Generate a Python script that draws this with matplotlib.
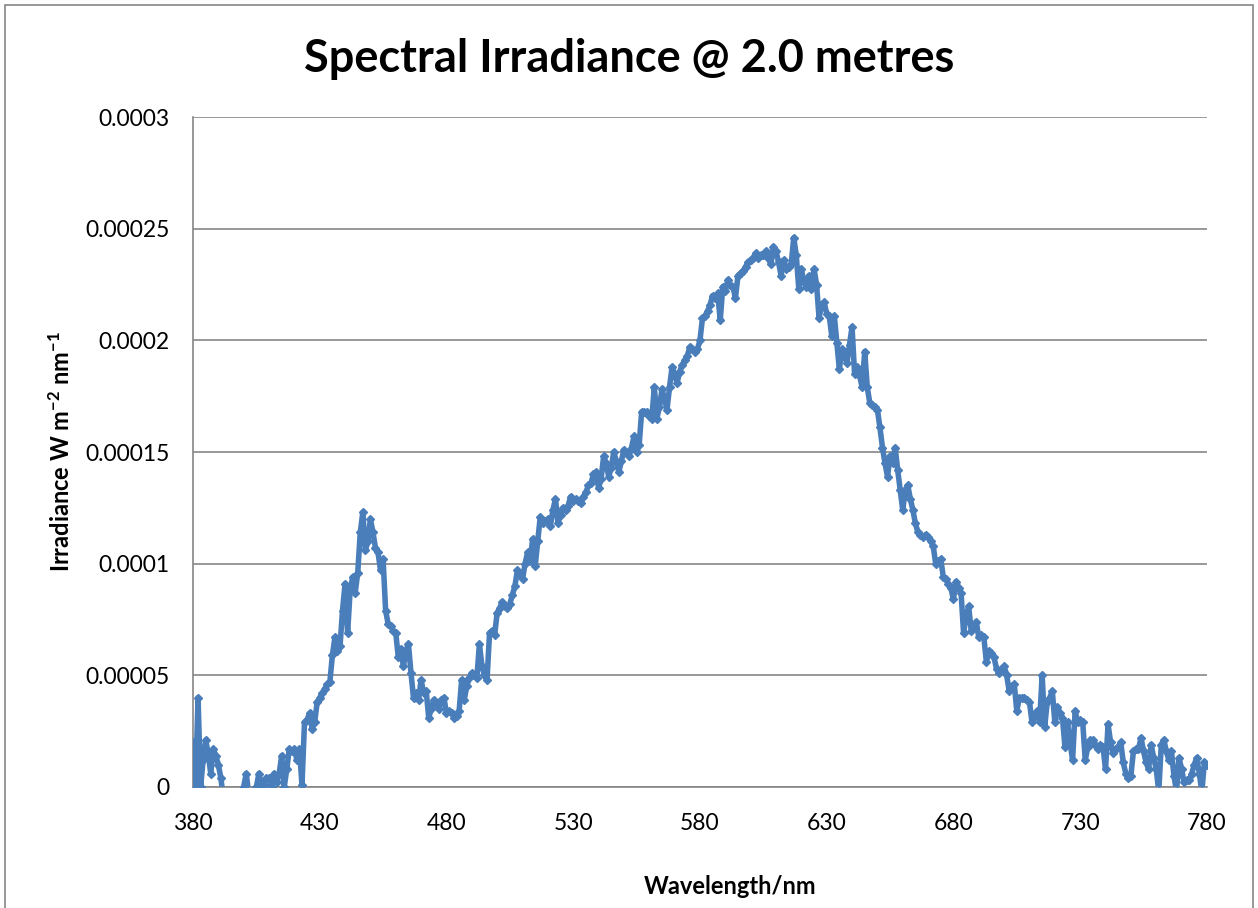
import matplotlib.pyplot as plt
from matplotlib.patches import Rectangle
import numpy as np

plt.rcParams["font.family"] = ["Lato", "DejaVu Sans"]
plt.rcParams["mathtext.default"] = "regular"

# wavelength, 1 nm steps
wavelength = np.arange(380, 781, 1)

# irradiance in units of 1e-5 W m-2 nm-1
irr_e5 = [
    2.0, 0.0, 4.0, 0.0, 1.2, 2.1, 1.5, 0.6, 1.7, 1.4,      # 380
    1.0, 0.4, -0.5, -1.0, -0.8, -1.5, -0.7, -1.2, -0.3, -0.2,  # 390
    0.0, 0.6, -0.3, -0.8, -0.2, 0.0, 0.6, 0.0, 0.1, 0.4,   # 400
    0.4, 0.0, 0.6, 0.2, 0.6, 1.4, 0.0, 0.8, 1.7, 1.6,      # 410
    1.7, 1.2, 1.7, 0.1, 2.9, 3.0, 3.3, 2.6, 2.9, 3.8,      # 420
    4.0, 4.2, 4.4, 4.6, 4.7, 5.9, 6.7, 6.1, 6.3, 7.9,      # 430
    9.1, 6.9, 8.8, 9.4, 8.7, 9.6, 11.4, 12.3, 10.6, 11.0,  # 440
    12.0, 11.4, 10.7, 10.5, 9.7, 10.2, 7.9, 7.3, 7.2, 7.0, # 450
    6.9, 5.8, 6.2, 5.4, 6.1, 6.4, 5.1, 4.0, 4.2, 3.9,      # 460
    4.8, 4.2, 4.3, 3.1, 3.5, 3.9, 3.7, 3.5, 3.9, 4.0,      # 470
    3.3, 3.4, 3.3, 3.1, 3.2, 3.4, 4.8, 3.9, 4.5, 4.9,      # 480
    5.1, 5.0, 4.9, 6.4, 5.4, 5.0, 4.8, 6.9, 7.0, 6.8,      # 490
    7.8, 8.0, 8.3, 8.1, 8.0, 8.2, 8.6, 9.0, 9.7, 9.5,      # 500
    9.3, 10.0, 10.5, 10.1, 11.1, 9.9, 11.0, 12.1, 11.8, 11.9,   # 510
    12.0, 11.7, 12.4, 12.9, 11.8, 12.2, 12.5, 12.4, 12.6, 13.0, # 520
    12.8, 12.9, 12.8, 12.7, 13.0, 13.2, 13.5, 13.6, 14.0, 14.1, # 530
    13.4, 13.8, 14.8, 14.5, 13.9, 14.3, 15.0, 14.6, 14.1, 14.6, # 540
    15.1, 15.0, 14.8, 15.2, 15.7, 15.0, 15.3, 16.8, 16.8, 16.8, # 550
    16.6, 16.5, 17.9, 16.5, 17.0, 17.8, 17.4, 16.9, 17.9, 18.8, # 560
    18.5, 18.1, 18.6, 18.9, 19.1, 19.3, 19.7, 19.6, 19.5, 19.6, # 570
    20.0, 21.0, 21.1, 21.3, 21.6, 22.0, 21.9, 22.1, 20.9, 22.4, # 580
    22.2, 22.7, 22.5, 22.4, 21.9, 22.9, 23.0, 23.1, 23.3, 23.5, # 590
    23.6, 23.7, 23.9, 23.7, 23.8, 23.8, 24.0, 23.7, 23.4, 24.2, # 600
    24.0, 23.5, 22.9, 23.6, 23.2, 23.3, 23.4, 24.6, 23.8, 22.3, # 610
    23.2, 22.6, 22.4, 22.9, 22.3, 23.2, 22.5, 21.0, 21.6, 21.7, # 620
    21.2, 21.1, 20.2, 21.1, 19.9, 18.7, 19.6, 19.3, 19.0, 19.8, # 630
    20.6, 18.5, 18.8, 18.4, 17.9, 19.5, 17.9, 17.2, 17.1, 17.0, # 640
    16.9, 16.1, 15.2, 14.5, 13.9, 14.8, 14.5, 15.2, 14.2, 13.3, # 650
    12.4, 13.3, 13.5, 12.9, 12.4, 11.8, 11.4, 11.3, 11.2, 11.3, # 660
    11.2, 11.0, 10.8, 10.0, 10.1, 10.2, 9.4, 9.3, 9.1, 8.9,     # 670
    8.4, 9.2, 8.9, 8.7, 6.9, 7.6, 8.1, 7.0, 7.2, 7.4,      # 680
    6.7, 6.8, 6.7, 5.6, 6.1, 6.0, 5.8, 5.3, 5.1, 5.3,      # 690
    5.4, 5.0, 4.3, 4.5, 4.6, 3.4, 4.0, 4.0, 4.0, 3.9,      # 700
    3.8, 2.9, 3.2, 3.4, 2.9, 5.0, 2.7, 3.8, 4.0, 4.3,      # 710
    2.9, 3.6, 3.3, 3.1, 1.8, 2.9, 2.0, 1.2, 3.4, 2.9,      # 720
    3.0, 2.9, 1.2, 1.8, 2.1, 2.1, 1.9, 1.7, 1.9, 1.8,      # 730
    0.8, 2.8, 2.0, 1.5, 1.7, 1.8, 2.0, 1.1, 0.6, 0.4,      # 740
    0.5, 1.6, 1.7, 1.7, 2.2, 1.6, 1.1, 0.8, 1.9, 1.3,      # 750
    0.8, -0.2, 1.9, 2.1, 1.6, 1.2, 1.6, 0.5, -0.2, 1.3,    # 760
    0.8, 0.2, 0.3, 0.3, 0.6, 1.0, 1.3, 0.6, -0.2, 1.1,     # 770
    1.0,                                                   # 780
]
irradiance = np.array(irr_e5) * 1e-5

x_ticks = [380, 430, 480, 530, 580, 630, 680, 730, 780]
y_ticks = [0, 0.00005, 0.0001, 0.00015, 0.0002, 0.00025, 0.0003]
y_labels = ["0", "0.00005", "0.0001", "0.00015", "0.0002", "0.00025", "0.0003"]

fig = plt.figure(figsize=(12.58, 9.08), dpi=100)
ax = fig.add_axes([0.1534, 0.1333, 0.806, 0.7378])

# chart area border
fig.patches.append(Rectangle((0.004, -0.01), 0.992, 1.004, transform=fig.transFigure,
                             fill=False, edgecolor="#868686", linewidth=1.2))

ax.plot(wavelength, irradiance, color="#4a7ebb", linewidth=4.0,
        marker="D", markersize=4.5, markerfacecolor="#4a7ebb",
        markeredgecolor="#4a7ebb", zorder=3)

ax.set_xlim(380, 780)
ax.set_ylim(0, 0.0003)
ax.set_xticks(x_ticks)
ax.set_xticklabels([str(t) for t in x_ticks])
ax.set_yticks(y_ticks)
ax.set_yticklabels(y_labels)
ax.tick_params(axis="both", length=0, labelsize=16.5)
ax.tick_params(axis="y", pad=17)
ax.tick_params(axis="x", pad=19)

ax.grid(axis="y", color="#868686", linewidth=1.2)
ax.set_axisbelow(True)
for side in ["top", "right"]:
    ax.spines[side].set_visible(False)
for side in ["left", "bottom"]:
    ax.spines[side].set_color("#868686")
    ax.spines[side].set_linewidth(1.2)

fig.text(0.5, 0.935, "Spectral Irradiance @ 2.0 metres", ha="center", va="center",
         fontsize=32.5, fontweight="bold")
ax.set_xlabel("Wavelength/nm", fontsize=17, fontweight="bold")
ax.xaxis.set_label_coords(0.53, -0.132)
ax.set_ylabel("Irradiance W m$^{-2}$ nm$^{-1}$", fontsize=17, fontweight="bold", labelpad=8)

fig.savefig("out.png", dpi=100)
